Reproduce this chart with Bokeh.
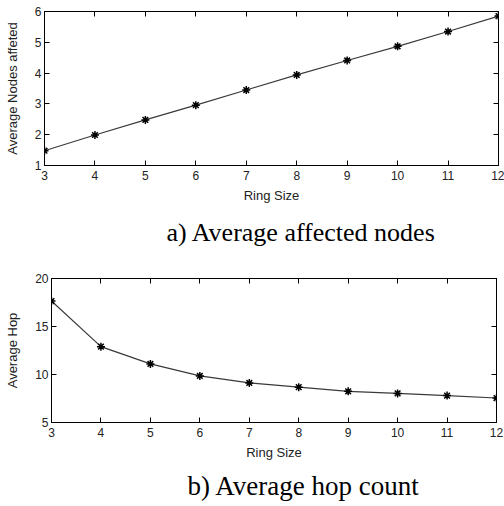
from bokeh.plotting import figure
from bokeh.models import Range1d, LinearAxis, Title, FixedTicker, Column
from bokeh.embed import file_html
from bokeh.resources import INLINE

ring_size = [3, 4, 5, 6, 7, 8, 9, 10, 11, 12]
avg_nodes_affected = [1.48, 1.99, 2.48, 2.96, 3.45, 3.94, 4.41, 4.87, 5.35, 5.85]
avg_hop = [17.65, 12.9, 11.1, 9.85, 9.12, 8.68, 8.25, 8.03, 7.8, 7.55]

x_ticks = [3, 4, 5, 6, 7, 8, 9, 10, 11, 12]
y1_ticks = [1, 2, 3, 4, 5, 6]
y2_ticks = [5, 10, 15, 20]

SANS = "Liberation Sans"
SERIF = "Liberation Serif"


def make_panel(y, yr, yticks, ylabel, caption, w, h, left_border, right_border, top_border,
               bottom_border, ylabel_standoff, cap_standoff, cap_offset, cap_size):
    p = figure(width=w, height=h,
               x_range=Range1d(3, 12), y_range=Range1d(*yr),
               output_backend="svg", toolbar_location=None,
               min_border_left=left_border, min_border_right=right_border,
               min_border_top=top_border, min_border_bottom=bottom_border)
    p.line(ring_size, y, line_color="#3a3a3a", line_width=1.2)
    p.scatter(ring_size, y, marker="asterisk", size=8, line_color="black", line_width=1.5)
    p.xgrid.visible = False
    p.ygrid.visible = False
    p.outline_line_color = "black"
    p.outline_line_width = 1
    p.background_fill_color = "white"
    p.border_fill_color = "white"

    for ax in p.xaxis:
        ax.ticker = FixedTicker(ticks=x_ticks)
        ax.axis_label = "Ring Size"
        ax.major_label_standoff = 5
        ax.axis_label_standoff = 5
    for ax in p.yaxis:
        ax.ticker = FixedTicker(ticks=yticks)
        ax.axis_label = ylabel
        ax.axis_label_standoff = ylabel_standoff
        ax.major_label_standoff = 3
    for ax in p.axis:
        ax.major_tick_in = 5
        ax.major_tick_out = 0
        ax.minor_tick_line_color = None
        ax.axis_line_color = "black"
        ax.major_tick_line_color = "black"
        ax.major_label_text_font = SANS
        ax.major_label_text_font_size = "12px"
        ax.major_label_text_color = "#222222"
        ax.axis_label_text_font = SANS
        ax.axis_label_text_font_size = "13px"
        ax.axis_label_text_font_style = "normal"
        ax.axis_label_text_color = "#222222"

    right = LinearAxis(ticker=FixedTicker(ticks=yticks), major_label_text_color=None,
                       major_label_text_font_size="1px",
                       major_tick_in=5, major_tick_out=0, minor_tick_line_color=None,
                       major_label_standoff=0, axis_line_color="black")
    top = LinearAxis(ticker=FixedTicker(ticks=x_ticks), major_label_text_color=None,
                     major_label_text_font_size="1px",
                     major_tick_in=5, major_tick_out=0, minor_tick_line_color=None,
                     major_label_standoff=0, axis_line_color="black")
    p.add_layout(right, "right")
    p.add_layout(top, "above")

    t = Title(text=caption, align="left", offset=cap_offset, text_font=SERIF,
              text_font_size=cap_size, text_font_style="normal", text_color="black",
              standoff=cap_standoff)
    p.add_layout(t, "below")
    return p


p1 = make_panel(avg_nodes_affected, (1, 6), y1_ticks, "Average Nodes affeted",
                "a) Average affected nodes", 504, 258, 44, 6, 11, 93, 12, 20, 122, "26px")
p2 = make_panel(avg_hop, (5, 20), y2_ticks, "Average Hop",
                "b) Average hop count", 504, 248, 51, 8, 20, 84, 12, 12, 136, "27px")

layout = Column(children=[Column(children=[p1]), Column(children=[p2])], spacing=0)
open("out.html", "w").write(file_html(layout, INLINE))
